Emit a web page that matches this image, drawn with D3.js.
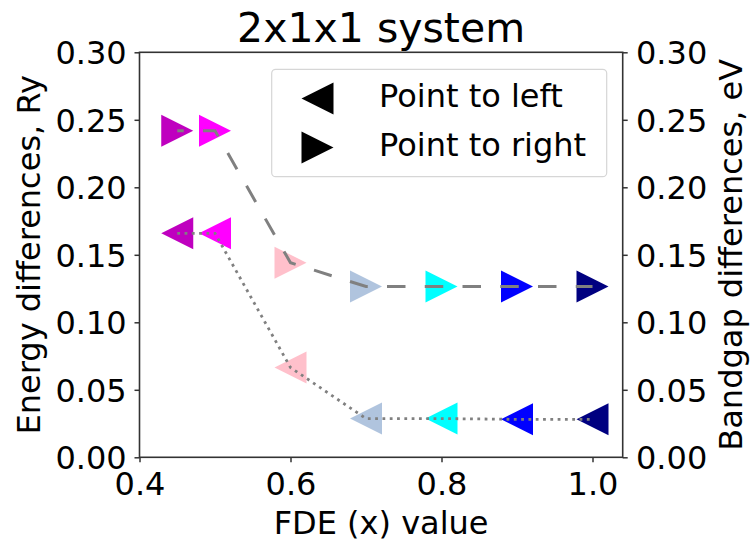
<!DOCTYPE html>
<html>
<head>
<meta charset="utf-8">
<script src="https://cdn.jsdelivr.net/npm/d3@7"></script>
<style>
  body { margin: 0; background: #ffffff; }
  text { font-family: "DejaVu Sans", sans-serif; fill: #000000; }
</style>
</head>
<body>
<div id="chart"></div>
<script>
// FDE values and marker colours
var fdeValues = [0.45, 0.5, 0.6, 0.7, 0.8, 0.9, 1.0];
var pointColors = ["#bf00bf", "#ff00ff", "#ffc0cb", "#b0c4de", "#00ffff", "#0000ff", "#000080"];

// right-pointing series (dashed) and left-pointing series (dotted)
var rightValues = [0.2419, 0.2419, 0.1441, 0.1265, 0.1265, 0.1265, 0.1265];
var leftValues = [0.1659, 0.1659, 0.0665, 0.0287, 0.0287, 0.0281, 0.0281];

var xTicks = [0.4, 0.6, 0.8, 1.0];
var yTicks = [0.00, 0.05, 0.10, 0.15, 0.20, 0.25, 0.30];
var legendLabels = ["Point to left", "Point to right"];

var width = 751, height = 542;
var plotLeft = 139.5, plotRight = 622.7, plotTop = 52.3, plotBottom = 457.3;
var markerSize = 32;

var svg = d3.select("#chart")
    .append("svg")
    .attr("width", width)
    .attr("height", height);

svg.append("rect")
    .attr("width", width)
    .attr("height", height)
    .attr("fill", "#ffffff");

var x = d3.scaleLinear()
    .domain([0.4, 1.04])
    .range([plotLeft, plotRight]);

var y = d3.scaleLinear()
    .domain([0, 0.3])
    .range([plotBottom, plotTop]);

// triangle pointing right (dir = 1) or left (dir = -1), centred on (0,0)
function triangle(dir){
    var h = markerSize / 2;
    return "M" + (dir * h) + ",0L" + (-dir * h) + "," + (-h) + "L" + (-dir * h) + "," + h + "Z";
}

// markers
svg.append("g")
    .selectAll("path")
    .data(fdeValues)
    .enter()
    .append("path")
    .attr("d", triangle(1))
    .attr("transform", function(d, i) { return "translate(" + x(d) + "," + y(rightValues[i]) + ")"; })
    .attr("fill", function(d, i) { return pointColors[i]; });

svg.append("g")
    .selectAll("path")
    .data(fdeValues)
    .enter()
    .append("path")
    .attr("d", triangle(-1))
    .attr("transform", function(d, i) { return "translate(" + x(d) + "," + y(leftValues[i]) + ")"; })
    .attr("fill", function(d, i) { return pointColors[i]; });

// lines over the markers
var line = d3.line()
    .x(function(d) { return x(d[0]); })
    .y(function(d) { return y(d[1]); });

svg.append("path")
    .attr("d", line(d3.zip(fdeValues, rightValues)))
    .attr("fill", "none")
    .attr("stroke", "#808080")
    .attr("stroke-width", 3)
    .attr("stroke-dasharray", "18.5,19.25")
    .attr("stroke-dashoffset", 12);

svg.append("path")
    .attr("d", line(d3.zip(fdeValues, leftValues)))
    .attr("fill", "none")
    .attr("stroke", "#808080")
    .attr("stroke-width", 2.8)
    .attr("stroke-dasharray", "2.8,4.5");

// axes
var fmt2 = d3.format(".2f");
var fmt1 = d3.format(".1f");

var xAxis = svg.append("g")
    .attr("transform", "translate(0," + plotBottom + ")")
    .call(d3.axisBottom(x).tickValues(xTicks).tickFormat(fmt1).tickSize(5).tickSizeOuter(0));

var yAxisL = svg.append("g")
    .attr("transform", "translate(" + plotLeft + ",0)")
    .call(d3.axisLeft(y).tickValues(yTicks).tickFormat(fmt2).tickSize(5).tickSizeOuter(0));

var yAxisR = svg.append("g")
    .attr("transform", "translate(" + plotRight + ",0)")
    .call(d3.axisRight(y).tickValues(yTicks).tickFormat(fmt2).tickSize(5).tickSizeOuter(0));

[xAxis, yAxisL, yAxisR].forEach(function(g){
    g.selectAll(".domain").remove();
    g.selectAll("line")
        .attr("stroke", "#333333")
        .attr("stroke-width", 1.5);
    g.selectAll("text")
        .style("font-size", "32px")
        .style("font-family", "DejaVu Sans");
});

xAxis.selectAll("text")
    .attr("y", 0)
    .attr("dy", 0)
    .attr("transform", "translate(0,37.5)");

yAxisL.selectAll("text")
    .attr("x", -12.8)
    .attr("dy", "0.36em");

yAxisR.selectAll("text")
    .attr("x", 13.3)
    .attr("dy", "0.36em");

// frame
svg.append("rect")
    .attr("x", plotLeft)
    .attr("y", plotTop)
    .attr("width", plotRight - plotLeft)
    .attr("height", plotBottom - plotTop)
    .attr("fill", "none")
    .attr("stroke", "#333333")
    .attr("stroke-width", 1.6);

// titles
svg.append("text")
    .attr("x", (plotLeft + plotRight) / 2)
    .attr("y", 41.5)
    .attr("text-anchor", "middle")
    .style("font-size", "41px")
    .text("2x1x1 system");

svg.append("text")
    .attr("x", (plotLeft + plotRight) / 2)
    .attr("y", 534)
    .attr("text-anchor", "middle")
    .style("font-size", "32px")
    .text("FDE (x) value");

svg.append("text")
    .attr("transform", "translate(40," + ((plotTop + plotBottom) / 2) + ") rotate(-90)")
    .attr("text-anchor", "middle")
    .style("font-size", "32px")
    .text("Energy differences, Ry");

svg.append("text")
    .attr("transform", "translate(741.5," + ((plotTop + plotBottom) / 2) + ") rotate(-90)")
    .attr("text-anchor", "middle")
    .style("font-size", "32px")
    .text("Bandgap differences, eV");

// legend
var legend = svg.append("g");

legend.append("rect")
    .attr("x", 271.7)
    .attr("y", 69.3)
    .attr("width", 335)
    .attr("height", 107.4)
    .attr("rx", 4)
    .attr("fill", "#ffffff")
    .attr("fill-opacity", 0.8)
    .attr("stroke", "#d6d6d6")
    .attr("stroke-width", 1.2);

legend.selectAll("path")
    .data(legendLabels)
    .enter()
    .append("path")
    .attr("d", function(d, i) { return triangle(i == 0 ? -1 : 1); })
    .attr("transform", function(d, i) { return "translate(317.5," + (98.5 + i * 49) + ")"; })
    .attr("fill", "#000000");

legend.selectAll("text")
    .data(legendLabels)
    .enter()
    .append("text")
    .attr("x", 379)
    .attr("y", function(d, i) { return 107 + i * 48.5; })
    .style("font-size", "32px")
    .text(function(d) { return d; });
</script>
</body>
</html>
